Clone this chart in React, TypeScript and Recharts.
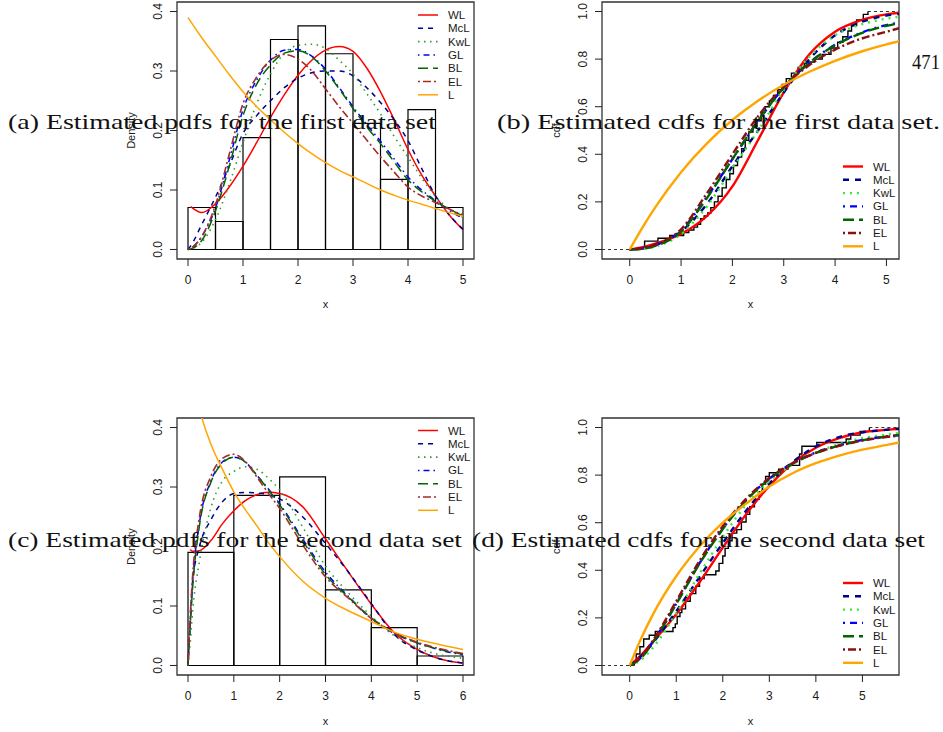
import React from 'react';
import { ComposedChart, Line, XAxis, YAxis, ReferenceArea, ReferenceLine } from 'recharts';

const SANS = '"Liberation Sans", Arial, Helvetica, sans-serif';
const SERIF = '"Liberation Serif", "Times New Roman", serif';

const seriesNames = ['WL', 'McL', 'KwL', 'GL', 'BL', 'EL', 'L'];

// ---------- Panel (a): pdfs, first data set ----------
const histAEdges = [0, 0.5, 1, 1.5, 2, 2.5, 3, 3.5, 4, 4.5, 5];
const histADensity = [0.0706, 0.047, 0.188, 0.353, 0.376, 0.329, 0.212, 0.118, 0.235, 0.0706];
const pdfAX = [0, 0.05, 0.25, 0.5, 0.75, 1, 1.25, 1.5, 1.75, 2, 2.25, 2.5, 2.75, 3, 3.25, 3.5, 3.75, 4, 4.25, 4.5, 4.75, 5];
const pdfA_WL = [null, 0.072, 0.062, 0.077, 0.105, 0.14, 0.18, 0.222, 0.26, 0.293, 0.318, 0.335, 0.341, 0.333, 0.305, 0.265, 0.218, 0.168, 0.125, 0.09, 0.058, 0.033];
const pdfA_McL = [0, 0.006, 0.042, 0.088, 0.14, 0.195, 0.225, 0.25, 0.272, 0.288, 0.297, 0.3, 0.3, 0.292, 0.272, 0.247, 0.218, 0.183, 0.136, 0.09, 0.058, 0.034];
const pdfA_KwL = [0, 0.001, 0.012, 0.05, 0.11, 0.18, 0.245, 0.295, 0.33, 0.343, 0.345, 0.338, 0.318, 0.295, 0.262, 0.228, 0.19, 0.155, 0.12, 0.089, 0.068, 0.054];
const pdfA_GL = [0, 0.002, 0.022, 0.07, 0.15, 0.235, 0.285, 0.318, 0.335, 0.336, 0.325, 0.303, 0.272, 0.24, 0.21, 0.182, 0.152, 0.122, 0.1, 0.082, 0.066, 0.052];
const pdfA_BL = [0, 0.001, 0.015, 0.065, 0.14, 0.225, 0.278, 0.31, 0.33, 0.334, 0.324, 0.3, 0.27, 0.237, 0.206, 0.178, 0.147, 0.117, 0.097, 0.081, 0.068, 0.056];
const pdfA_EL = [0, 0.002, 0.022, 0.075, 0.16, 0.245, 0.29, 0.318, 0.328, 0.32, 0.3, 0.27, 0.24, 0.212, 0.184, 0.156, 0.13, 0.105, 0.09, 0.079, 0.068, 0.058];
const pdfA_L = [0.39, 0.383, 0.356, 0.325, 0.294, 0.265, 0.24, 0.218, 0.197, 0.178, 0.161, 0.146, 0.133, 0.122, 0.111, 0.1, 0.091, 0.083, 0.076, 0.069, 0.062, 0.056];

// ---------- Panel (b): cdfs, first data set ----------
const cdfBX = [0, 0.25, 0.5, 1, 1.5, 2, 2.5, 3, 3.5, 4, 4.5, 5, 5.25];
const cdfB_WL = [0, 0.01, 0.025, 0.065, 0.14, 0.265, 0.46, 0.66, 0.82, 0.915, 0.963, 0.988, 0.995];
const cdfB_McL = [0, 0.005, 0.02, 0.075, 0.19, 0.35, 0.5, 0.66, 0.8, 0.9, 0.955, 0.983, 0.99];
const cdfB_KwL = [0, 0.002, 0.012, 0.065, 0.18, 0.34, 0.5, 0.67, 0.81, 0.9, 0.945, 0.97, 0.978];
const cdfB_GL = [0, 0.004, 0.018, 0.08, 0.22, 0.38, 0.54, 0.68, 0.785, 0.86, 0.91, 0.943, 0.953];
const cdfB_BL = [0, 0.003, 0.015, 0.075, 0.215, 0.38, 0.54, 0.68, 0.785, 0.858, 0.908, 0.94, 0.951];
const cdfB_EL = [0, 0.005, 0.02, 0.085, 0.235, 0.4, 0.56, 0.685, 0.775, 0.84, 0.885, 0.915, 0.93];
const cdfB_L = [0, 0.093, 0.178, 0.325, 0.445, 0.544, 0.625, 0.692, 0.747, 0.793, 0.831, 0.862, 0.875];
const ecdfBX = [0.29, 0.55, 0.78, 1.05, 1.15, 1.25, 1.32, 1.38, 1.45, 1.52, 1.58, 1.65, 1.72, 1.8, 1.88, 1.95, 2.02, 2.1, 2.18, 2.25, 2.32, 2.4, 2.48, 2.56, 2.64, 2.72, 2.8, 2.88, 2.97, 3.05, 3.15, 3.28, 3.4, 3.6, 3.75, 3.92, 4.05, 4.15, 4.25, 4.32, 4.42, 4.55, 4.64];
const ecdfBY = [0.035, 0.047, 0.059, 0.071, 0.082, 0.094, 0.106, 0.129, 0.141, 0.153, 0.176, 0.2, 0.224, 0.259, 0.294, 0.318, 0.353, 0.388, 0.424, 0.459, 0.494, 0.518, 0.541, 0.576, 0.6, 0.624, 0.647, 0.671, 0.694, 0.718, 0.741, 0.765, 0.788, 0.8, 0.82, 0.847, 0.871, 0.894, 0.918, 0.941, 0.965, 0.988, 1];

// ---------- Panel (c): pdfs, second data set ----------
const histCEdges = [0, 1, 2, 3, 4, 5, 6];
const histCDensity = [0.19, 0.286, 0.317, 0.127, 0.0635, 0.0159];
const pdfCX = [0, 0.05, 0.1, 0.25, 0.5, 0.75, 1, 1.25, 1.5, 1.75, 2, 2.5, 3, 3.5, 4, 4.5, 5, 5.5, 6];
const pdfC_WL = [null, 0.195, 0.192, 0.193, 0.21, 0.238, 0.26, 0.277, 0.287, 0.291, 0.289, 0.267, 0.213, 0.157, 0.103, 0.055, 0.027, 0.011, 0.004];
const pdfC_McL = [0, 0.07, 0.14, 0.2, 0.245, 0.275, 0.289, 0.291, 0.29, 0.287, 0.28, 0.25, 0.205, 0.157, 0.104, 0.052, 0.026, 0.011, 0.004];
const pdfC_KwL = [0, 0.04, 0.09, 0.175, 0.265, 0.31, 0.326, 0.334, 0.33, 0.315, 0.295, 0.233, 0.167, 0.122, 0.083, 0.05, 0.03, 0.018, 0.012];
const pdfC_GL = [0, 0.08, 0.14, 0.24, 0.31, 0.342, 0.35, 0.342, 0.32, 0.297, 0.272, 0.213, 0.157, 0.116, 0.079, 0.054, 0.038, 0.026, 0.018];
const pdfC_BL = [0, 0.07, 0.13, 0.235, 0.308, 0.34, 0.35, 0.342, 0.32, 0.296, 0.27, 0.21, 0.153, 0.115, 0.08, 0.055, 0.038, 0.027, 0.019];
const pdfC_EL = [0, 0.085, 0.15, 0.25, 0.318, 0.348, 0.355, 0.343, 0.317, 0.29, 0.264, 0.203, 0.149, 0.113, 0.079, 0.055, 0.039, 0.028, 0.02];
const pdfC_L = [0.52, 0.5, 0.48, 0.43, 0.372, 0.33, 0.292, 0.262, 0.235, 0.207, 0.183, 0.142, 0.113, 0.092, 0.074, 0.056, 0.044, 0.035, 0.027];

// ---------- Panel (d): cdfs, second data set ----------
const cdfDX = [0, 0.25, 0.5, 1, 1.5, 2, 2.5, 3, 3.5, 4, 4.5, 5, 5.5, 5.79];
const cdfD_WL = [0, 0.045, 0.1, 0.215, 0.35, 0.495, 0.635, 0.755, 0.85, 0.915, 0.955, 0.98, 0.99, 0.995];
const cdfD_McL = [0, 0.04, 0.095, 0.228, 0.372, 0.515, 0.65, 0.765, 0.855, 0.92, 0.96, 0.98, 0.99, 0.995];
const cdfD_KwL = [0, 0.025, 0.075, 0.22, 0.385, 0.54, 0.675, 0.775, 0.845, 0.895, 0.93, 0.955, 0.97, 0.977];
const cdfD_GL = [0, 0.035, 0.1, 0.26, 0.43, 0.575, 0.695, 0.785, 0.85, 0.895, 0.925, 0.948, 0.962, 0.968];
const cdfD_BL = [0, 0.033, 0.098, 0.258, 0.428, 0.573, 0.693, 0.783, 0.848, 0.893, 0.924, 0.946, 0.961, 0.968];
const cdfD_EL = [0, 0.038, 0.105, 0.27, 0.44, 0.585, 0.7, 0.788, 0.85, 0.893, 0.923, 0.945, 0.96, 0.966];
const cdfD_L = [0, 0.115, 0.215, 0.375, 0.5, 0.6, 0.68, 0.752, 0.808, 0.85, 0.882, 0.907, 0.926, 0.937];
const ecdfDX = [0.1, 0.14, 0.22, 0.3, 0.42, 0.55, 0.93, 0.98, 1.02, 1.08, 1.12, 1.2, 1.3, 1.42, 1.5, 1.6, 1.85, 1.92, 2.0, 2.05, 2.12, 2.2, 2.3, 2.4, 2.5, 2.58, 2.68, 2.78, 2.85, 2.92, 3.0, 3.2, 3.4, 3.65, 3.7, 4.02, 4.65, 4.75, 4.95, 5.15];
const ecdfDY = [0.016, 0.048, 0.079, 0.111, 0.127, 0.143, 0.159, 0.175, 0.206, 0.222, 0.238, 0.27, 0.302, 0.333, 0.365, 0.381, 0.397, 0.429, 0.46, 0.492, 0.524, 0.556, 0.571, 0.603, 0.635, 0.667, 0.698, 0.73, 0.762, 0.794, 0.81, 0.825, 0.841, 0.889, 0.921, 0.937, 0.952, 0.968, 0.984, 1];

const pdfTicksA = [0, 1, 2, 3, 4, 5];
const pdfTicksC = [0, 1, 2, 3, 4, 5, 6];
const cdfTicksX = [0, 1, 2, 3, 4, 5];
const pdfTicksY = [0, 0.1, 0.2, 0.3, 0.4];
const cdfTicksY = [0, 0.2, 0.4, 0.6, 0.8, 1];

const captions = [
  '(a) Estimated pdfs for the first data set',
  '(b) Estimated cdfs for the first data set.',
  '(c) Estimated pdfs for the second data set',
  '(d) Estimated cdfs for the second data set',
];
const pageNumber = '471';

// ---------- styles ----------
type Sty = { color: string; dash?: string; width: number };
const pdfStyles: Sty[] = [
  { color: '#FF0000', width: 1.5 },
  { color: '#00008B', dash: '5 5', width: 1.5 },
  { color: '#2E9B2E', dash: '1.5 4.5', width: 1.6 },
  { color: '#0000FF', dash: '1.5 4 6 4', width: 1.5 },
  { color: '#006400', dash: '10 5', width: 1.5 },
  { color: '#A52A2A', dash: '2 3 8 3', width: 1.6 },
  { color: '#FFA500', width: 1.5 },
];
const cdfStyles: Sty[] = [
  { color: '#FF0000', width: 2.4 },
  { color: '#00008B', dash: '6 6', width: 2.4 },
  { color: '#33EE33', dash: '2 5', width: 2.4 },
  { color: '#0000FF', dash: '2 5 7 5', width: 2.4 },
  { color: '#006400', dash: '11 5', width: 2.4 },
  { color: '#8B1010', dash: '2 3 8 3', width: 2.4 },
  { color: '#FFA500', width: 2.4 },
];

const pts = (xs: number[], ys: (number | null)[]) => xs.map((x, i) => ({ x, y: ys[i] }));

const pdfA = [pdfA_WL, pdfA_McL, pdfA_KwL, pdfA_GL, pdfA_BL, pdfA_EL, pdfA_L].map((ys) => pts(pdfAX, ys));
const pdfC = [pdfC_WL, pdfC_McL, pdfC_KwL, pdfC_GL, pdfC_BL, pdfC_EL, pdfC_L].map((ys) => pts(pdfCX, ys));
const cdfB = [cdfB_WL, cdfB_McL, cdfB_KwL, cdfB_GL, cdfB_BL, cdfB_EL, cdfB_L].map((ys) => pts(cdfBX, ys));
const cdfD = [cdfD_WL, cdfD_McL, cdfD_KwL, cdfD_GL, cdfD_BL, cdfD_EL, cdfD_L].map((ys) => pts(cdfDX, ys));
const ecdfB = pts(ecdfBX, ecdfBY);
const ecdfD = pts(ecdfDX, ecdfDY);
const histA = histADensity.map((d, i) => ({ x1: histAEdges[i], x2: histAEdges[i + 1], d }));
const histC = histCDensity.map((d, i) => ({ x1: histCEdges[i], x2: histCEdges[i + 1], d }));

const XTick = (props: any) => {
  const { x, y, payload } = props;
  return (
    <text x={x} y={y + 18} textAnchor="middle" fontSize={12} fontFamily={SANS} fill="#1a1a1a">
      {String(payload.value)}
    </text>
  );
};
const YTick = (props: any) => {
  const { x, y, payload } = props;
  const tx = x - 8;
  return (
    <text x={tx} y={y} textAnchor="middle" fontSize={12} fontFamily={SANS} fill="#1a1a1a" transform={`rotate(-90, ${tx}, ${y})`}>
      {Number(payload.value).toFixed(1)}
    </text>
  );
};

type Pt = { x: number; y: number | null };
type PanelProps = {
  left: number; top: number; width: number; height: number;
  mTop: number; mRight: number; yW: number; xH: number;
  xDomain: [number, number]; yDomain: [number, number];
  xTicks: number[]; yTicks: number[];
  curves: Pt[][];
  styles: Sty[];
  hist?: { x1: number; x2: number; d: number }[];
  ecdf?: Pt[];
};

function Panel(p: PanelProps) {
  const e = p.ecdf;
  const ecdfFull = e ? [{ x: e[0].x, y: 0 }, ...e] : undefined;
  return (
    <div style={{ position: 'absolute', left: p.left, top: p.top, width: p.width, height: p.height }}>
      <ComposedChart width={p.width} height={p.height} margin={{ top: p.mTop, right: p.mRight, bottom: 0, left: 0 }}>
        <XAxis type="number" dataKey="x" domain={p.xDomain} ticks={p.xTicks} allowDataOverflow axisLine={false}
          tickSize={7} tickMargin={0} tickLine={{ stroke: '#222', strokeWidth: 1 }} tick={<XTick />} height={p.xH} interval={0} />
        <YAxis type="number" dataKey="y" domain={p.yDomain} ticks={p.yTicks} allowDataOverflow axisLine={false}
          tickSize={7} tickMargin={0} tickLine={{ stroke: '#222', strokeWidth: 1 }} tick={<YTick />} width={p.yW} interval={0} />
        {p.hist && p.hist.map((b, i) => (
          <ReferenceArea key={'h' + i} x1={b.x1} x2={b.x2} y1={0} y2={b.d} fill="none" fillOpacity={0} stroke="#000" strokeWidth={1.2} strokeOpacity={1} ifOverflow="visible" />
        ))}
        {e && (
          <ReferenceLine segment={[{ x: p.xDomain[0], y: 0 }, { x: e[0].x, y: 0 }]} stroke="#333" strokeDasharray="3 3" strokeWidth={1.2} ifOverflow="visible" />
        )}
        {e && (
          <ReferenceLine segment={[{ x: e[e.length - 1].x, y: 1 }, { x: p.xDomain[1], y: 1 }]} stroke="#333" strokeDasharray="3 3" strokeWidth={1.2} ifOverflow="visible" />
        )}
        {ecdfFull && (
          <Line data={ecdfFull} dataKey="y" type="stepAfter" stroke="#000" strokeWidth={1.4} dot={false} activeDot={false} isAnimationActive={false} />
        )}
        {p.curves.map((c, i) => (
          <Line key={seriesNames[i]} data={c} dataKey="y" name={seriesNames[i]} type="monotone" stroke={p.styles[i].color}
            strokeWidth={p.styles[i].width} strokeDasharray={p.styles[i].dash} dot={false} activeDot={false} isAnimationActive={false} />
        ))}
        <ReferenceArea x1={p.xDomain[0]} x2={p.xDomain[1]} y1={p.yDomain[0]} y2={p.yDomain[1]} fill="none" fillOpacity={0}
          stroke="#333" strokeWidth={1.3} strokeOpacity={1} ifOverflow="visible" />
      </ComposedChart>
    </div>
  );
}

function LegendBlock({ x, y, styles }: { x: number; y: number; styles: Sty[] }) {
  return (
    <g>
      {seriesNames.map((n, i) => {
        const yy = y + i * 13.3;
        return (
          <g key={n}>
            <line x1={x} x2={x + 20} y1={yy} y2={yy} stroke={styles[i].color} strokeWidth={styles[i].width} strokeDasharray={styles[i].dash} />
            <text x={x + 30} y={yy + 4} fontSize={11.5} fontFamily={SANS} fill="#1a1a1a">{n}</text>
          </g>
        );
      })}
    </g>
  );
}

export default function App() {
  return (
    <div style={{ position: 'absolute', left: 0, top: 0, width: 943, height: 732, background: '#fff', overflow: 'hidden' }}>
      <Panel left={120} top={0} width={360} height={320} mTop={2} mRight={6} yW={57} xH={61}
        xDomain={[-0.2, 5.2]} yDomain={[-0.016, 0.416]} xTicks={pdfTicksA} yTicks={pdfTicksY}
        curves={pdfA} styles={pdfStyles} hist={histA} />
      <Panel left={540} top={0} width={365} height={320} mTop={2} mRight={6} yW={62} xH={61}
        xDomain={[-0.54, 5.245]} yDomain={[-0.04, 1.04]} xTicks={cdfTicksX} yTicks={cdfTicksY}
        curves={cdfB} styles={cdfStyles} ecdf={ecdfB} />
      <Panel left={120} top={410} width={360} height={322} mTop={8} mRight={6} yW={57} xH={57}
        xDomain={[-0.24, 6.24]} yDomain={[-0.016, 0.416]} xTicks={pdfTicksC} yTicks={pdfTicksY}
        curves={pdfC} styles={pdfStyles} hist={histC} />
      <Panel left={540} top={410} width={365} height={322} mTop={8} mRight={6} yW={62} xH={57}
        xDomain={[-0.595, 5.786]} yDomain={[-0.04, 1.04]} xTicks={cdfTicksX} yTicks={cdfTicksY}
        curves={cdfD} styles={cdfStyles} ecdf={ecdfD} />
      <svg width={943} height={732} style={{ position: 'absolute', left: 0, top: 0, pointerEvents: 'none' }}>
        <text x={325.5} y={308} textAnchor="middle" fontSize={11} fontFamily={SANS} fill="#1a1a1a">x</text>
        <text x={750.5} y={308} textAnchor="middle" fontSize={11} fontFamily={SANS} fill="#1a1a1a">x</text>
        <text x={325.5} y={725} textAnchor="middle" fontSize={11} fontFamily={SANS} fill="#1a1a1a">x</text>
        <text x={750.5} y={725} textAnchor="middle" fontSize={11} fontFamily={SANS} fill="#1a1a1a">x</text>
        <text x={135} y={130.5} textAnchor="middle" fontSize={11} fontFamily={SANS} fill="#1a1a1a" transform="rotate(-90, 135, 130.5)">Density</text>
        <text x={135} y={546.7} textAnchor="middle" fontSize={11} fontFamily={SANS} fill="#1a1a1a" transform="rotate(-90, 135, 546.7)">Density</text>
        <text x={560} y={130.5} textAnchor="middle" fontSize={11} fontFamily={SANS} fill="#1a1a1a" transform="rotate(-90, 560, 130.5)">cdf</text>
        <text x={560} y={546.7} textAnchor="middle" fontSize={11} fontFamily={SANS} fill="#1a1a1a" transform="rotate(-90, 560, 546.7)">cdf</text>
        <LegendBlock x={418} y={15} styles={pdfStyles} />
        <LegendBlock x={843} y={166.5} styles={cdfStyles} />
        <LegendBlock x={418} y={430.5} styles={pdfStyles} />
        <LegendBlock x={843} y={583} styles={cdfStyles} />
        <text x={8} y={129} fontSize={21} fontFamily={SERIF} fill="#111" textLength={428} lengthAdjust="spacingAndGlyphs">{captions[0]}</text>
        <text x={497} y={129} fontSize={21} fontFamily={SERIF} fill="#111" textLength={443} lengthAdjust="spacingAndGlyphs">{captions[1]}</text>
        <text x={8} y={547} fontSize={21} fontFamily={SERIF} fill="#111" textLength={454} lengthAdjust="spacingAndGlyphs">{captions[2]}</text>
        <text x={472} y={547} fontSize={21} fontFamily={SERIF} fill="#111" textLength={453} lengthAdjust="spacingAndGlyphs">{captions[3]}</text>
        <text x={912} y={69} fontSize={21} fontFamily={SERIF} fill="#111" textLength={28} lengthAdjust="spacingAndGlyphs">{pageNumber}</text>
      </svg>
    </div>
  );
}
